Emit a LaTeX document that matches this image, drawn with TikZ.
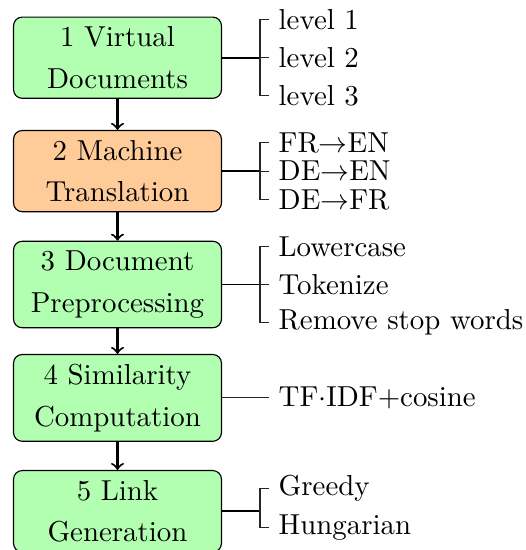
\documentclass[tikz,border=0pt]{standalone}
\begin{document}
\begin{tikzpicture}[x=0.3463pt,y=-0.3463pt,
  stage/.style={draw, rounded corners=3pt, minimum width=72pt, align=center, inner sep=3.33pt},
  stagegreen/.style={stage, fill=green!30},
  stageorange/.style={stage, fill=orange!40},
  item/.style={anchor=west, inner sep=3.33pt},
  flow/.style={->, line width=0.7pt},
  link/.style={line width=0.6pt},
  branch/.style={line width=0.4pt, black!85}]
\path[clip] (0,0) rectangle (526,550);

% pipeline stages
\node[stagegreen]  (b1) at (117.5,57.7)  {1 Virtual\\[2.4pt]Documents};
\node[stageorange] (b2) at (117.5,171.1) {2 Machine\\[2.4pt]Translation};
\node[stagegreen]  (b3) at (117.5,284.5) {3 Document\\[2.4pt]Preprocessing};
\node[stagegreen]  (b4) at (117.5,397.9) {4 Similarity\\[2.4pt]Computation};
\node[stagegreen]  (b5) at (117.5,511.3) {5 Link\\[2.4pt]Generation};

\draw[flow] (b1) -- (b2);
\draw[flow] (b2) -- (b3);
\draw[flow] (b3) -- (b4);
\draw[flow] (b4) -- (b5);

% options of each stage
\node[item] (l1) at (268.5,19.7)  {level 1};
\node[item] (l2) at (268.5,57.7)  {level 2};
\node[item] (l3) at (268.5,95.7)  {level 3};

\node[item] (m1) at (268.5,142.6) {FR$\rightarrow$EN};
\node[item] (m2) at (268.5,171.1) {DE$\rightarrow$EN};
\node[item] (m3) at (268.5,199.6) {DE$\rightarrow$FR};

\node[item] (p1) at (268.5,246.5) {Lowercase};
\node[item] (p2) at (268.5,284.5) {Tokenize};
\node[item] (p3) at (268.5,322.5) {Remove stop words};

\node[item] (s1) at (268.5,397.9) {TF$\cdot$IDF+cosine};

\node[item] (g1) at (268.5,488.5) {Greedy};
\node[item] (g2) at (268.5,527.5) {Hungarian};

% forks
\coordinate (f1) at (260,57.7);
\coordinate (f2) at (260,171.1);
\coordinate (f3) at (260,284.5);
\coordinate (f5) at (260,511.3);

\draw[link] (b1.east) -- (f1);
\draw[branch] (f1) -- (l2.west);
\draw[branch] (l1.west) -- (l1.west -| f1) |- (l3.west);

\draw[link] (b2.east) -- (f2);
\draw[branch] (f2) -- (m2.west);
\draw[branch] (m1.west) -- (m1.west -| f2) |- (m3.west);

\draw[link] (b3.east) -- (f3);
\draw[branch] (f3) -- (p2.west);
\draw[branch] (p1.west) -- (p1.west -| f3) |- (p3.west);

\draw[branch] (b4.east) -- (s1.west);

\draw[link] (b5.east) -- (f5);
\draw[branch] (g1.west) -- (g1.west -| f5) |- (g2.west);
\end{tikzpicture}
\end{document}
